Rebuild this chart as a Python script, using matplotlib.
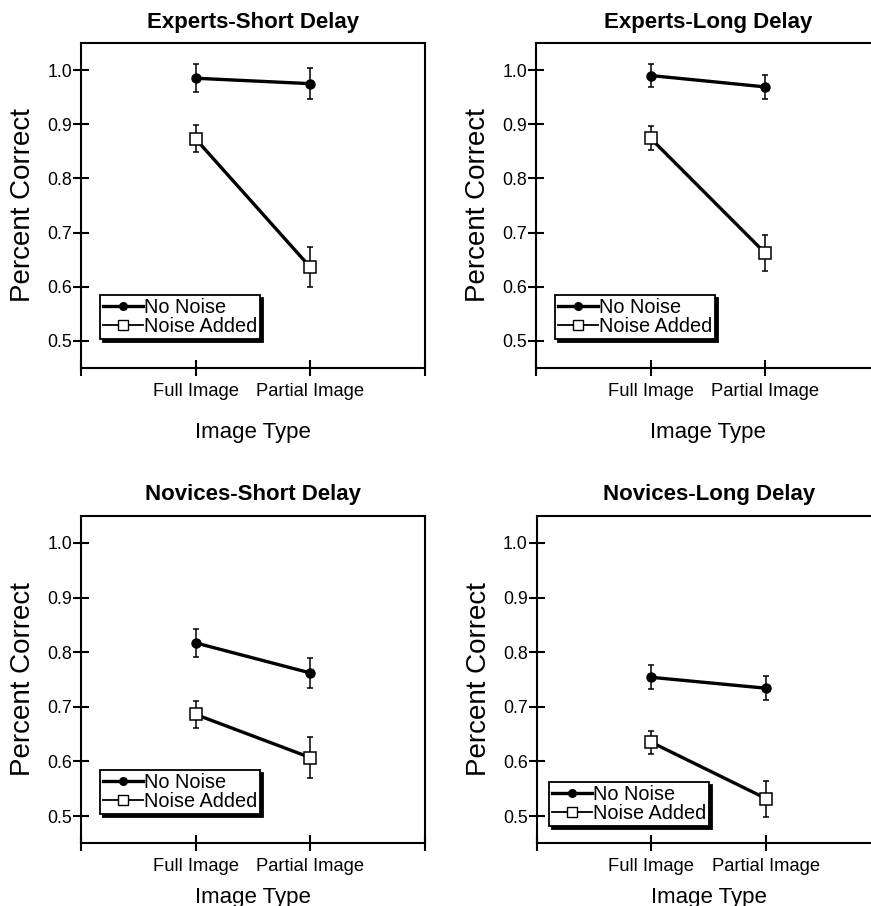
import matplotlib
matplotlib.use("Agg")
import matplotlib.pyplot as plt
from matplotlib.lines import Line2D

plt.rcParams['font.family'] = ['Liberation Sans', 'DejaVu Sans']

# datos
titles = ["Experts-Short Delay", "Experts-Long Delay",
          "Novices-Short Delay", "Novices-Long Delay"]
image_types = ["Full Image", "Partial Image"]
no_noise = [[0.985, 0.975], [0.990, 0.969], [0.817, 0.762], [0.754, 0.734]]
no_noise_err = [[0.026, 0.028], [0.022, 0.022], [0.026, 0.027], [0.022, 0.022]]
noise_added = [[0.873, 0.636], [0.874, 0.662], [0.686, 0.607], [0.635, 0.532]]
noise_added_err = [[0.025, 0.037], [0.022, 0.033], [0.025, 0.037], [0.021, 0.033]]
y_ticks = [0.5, 0.6, 0.7, 0.8, 0.9, 1.0]

# posicion de cada panel en la figura (fraccion)
rects = [[0.0930, 0.5938, 0.3949, 0.3587],
         [0.6154, 0.5938, 0.3949, 0.3587],
         [0.0930, 0.0692, 0.3949, 0.3616],
         [0.6162, 0.0692, 0.3949, 0.3616]]
legend_pos = [(0.055, 0.089), (0.055, 0.089), (0.055, 0.089), (0.036, 0.053)]
xlabel_pad = [16, 16, 9, 9]

fig = plt.figure(figsize=(8.71, 9.06), dpi=100)

for i in range(4):
    ax = fig.add_axes(rects[i])
    x = [1, 2]
    ax.errorbar(x, no_noise[i], yerr=no_noise_err[i], color='black', lw=2.4,
                marker='o', ms=6.5, mfc='black', mec='black',
                elinewidth=1.1, capsize=2.2, capthick=1.1, zorder=3)
    ax.errorbar(x, noise_added[i], yerr=noise_added_err[i], color='black', lw=2.4,
                marker='s', ms=8, mfc='white', mec='black', mew=1.1,
                elinewidth=1.1, capsize=2.2, capthick=1.1, zorder=3)

    ax.set_xlim(0, 3)
    ax.set_ylim(0.45, 1.05)
    ax.set_xticks([0, 1, 2, 3])
    ax.set_xticklabels([''] + image_types + [''], fontsize=13.2)
    ax.set_yticks(y_ticks)
    ax.set_yticklabels([f"{v:.1f}" for v in y_ticks], fontsize=12.8)
    ax.tick_params(axis='both', direction='inout', length=11, width=1.5)
    ax.tick_params(axis='x', pad=5)
    ax.tick_params(axis='y', pad=1)
    for s in ax.spines.values():
        s.set_linewidth(1.5)

    ax.set_title(titles[i], fontsize=16, fontweight='bold', pad=11)
    ax.set_ylabel('Percent Correct', fontsize=20, labelpad=8)
    ax.set_xlabel('Image Type', fontsize=16, labelpad=xlabel_pad[i])

    handles = [Line2D([], [], color='black', lw=2.4, marker='o', ms=5.5, mfc='black'),
               Line2D([], [], color='black', lw=1.3, marker='s', ms=7, mfc='white', mew=1.0)]
    leg = ax.legend(handles, ['No Noise', 'Noise Added'], loc='lower left',
                    bbox_to_anchor=legend_pos[i], borderaxespad=0, fontsize=14.3,
                    frameon=True, fancybox=False, framealpha=1, edgecolor='black',
                    shadow={'color': 'black', 'alpha': 1}, borderpad=0.15,
                    handlelength=2.0, handletextpad=0.05, labelspacing=0.0)
    leg.get_frame().set_linewidth(1.3)

fig.savefig("out.png", dpi=100)
